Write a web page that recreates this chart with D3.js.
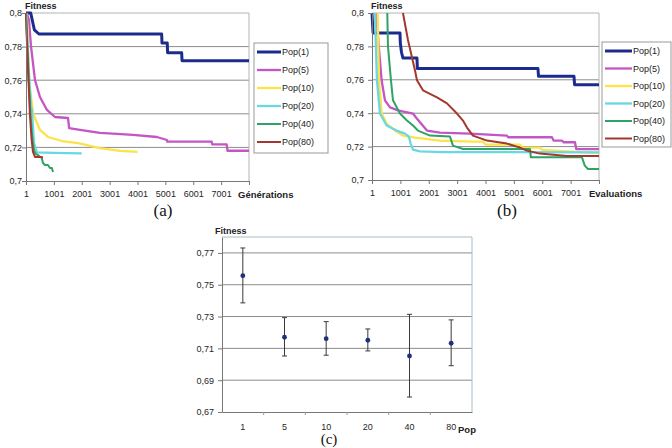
<!DOCTYPE html>
<html>
<head>
<meta charset="utf-8">
<script src="https://cdn.jsdelivr.net/npm/d3@7"></script>
<style>
	body { margin: 0; background: #fff; }
	svg { display: block; font-family: "Liberation Sans", Arial, sans-serif; }
</style>
</head>
<body>
<svg id="chart" width="672" height="448"></svg>
<script>
const popNames = ["Pop(1)", "Pop(5)", "Pop(10)", "Pop(20)", "Pop(40)", "Pop(80)"];
const popColors = ["#1c2c8c", "#c455c4", "#fbe348", "#6ad8e2", "#2ea366", "#a3382e"];
const popWidths = [3, 2.3, 2.3, 2.3, 2, 2];

const fitnessTicks = [0.7, 0.72, 0.74, 0.76, 0.78, 0.8];
const stepTicks = [1, 1001, 2001, 3001, 4001, 5001, 6001, 7001, 8001];
const stepLabels = ["1", "1001", "2001", "3001", "4001", "5001", "6001", "7001", ""];

// (a) fitness vs generations
const genPop1 = [[1, 0.8], [170, 0.8], [300, 0.79], [466, 0.7875], [4868, 0.7875], [4880, 0.7821], [5069, 0.7821], [5080, 0.7764], [5585, 0.7764], [5600, 0.7716], [8001, 0.7716]];
const genPop5 = [[30, 0.8], [108, 0.7958], [179, 0.7804], [323, 0.7601], [502, 0.75], [753, 0.7423], [1040, 0.7381], [1507, 0.7375], [1550, 0.7315], [1937, 0.7304], [2654, 0.7286], [3264, 0.728], [3838, 0.7274], [4699, 0.7262], [5058, 0.7244], [5070, 0.7234], [6661, 0.7234], [6680, 0.7218], [7199, 0.7218], [7230, 0.718], [8001, 0.718]];
const genPop10 = [[1, 0.8], [40, 0.795], [72, 0.7804], [108, 0.7601], [251, 0.7405], [395, 0.7345], [502, 0.7304], [789, 0.7262], [1291, 0.7238], [1865, 0.7226], [2188, 0.7214], [2654, 0.7196], [3372, 0.7179], [4001, 0.7173]];
const genPop20 = [[1, 0.8], [60, 0.78], [120, 0.76], [180, 0.745], [215, 0.7423], [287, 0.7226], [395, 0.717], [1000, 0.7167], [2001, 0.7165]];
const genPop40 = [[1, 0.8], [50, 0.78], [100, 0.76], [160, 0.74], [230, 0.725], [290, 0.718], [360, 0.716], [430, 0.7155], [502, 0.7143], [560, 0.7143], [610, 0.7107], [682, 0.7095], [789, 0.7095], [861, 0.7077], [930, 0.7077], [969, 0.7054]];
const genPop80 = [[1, 0.8], [40, 0.78], [90, 0.76], [140, 0.74], [200, 0.725], [251, 0.7173], [323, 0.7143], [500, 0.7143], [610, 0.714]];

// (b) fitness vs evaluations
const evalPop1 = [[1, 0.8], [40, 0.788], [987, 0.788], [1000, 0.782], [1040, 0.7765], [1092, 0.773], [1586, 0.773], [1600, 0.7667], [5850, 0.7667], [5870, 0.7621], [7119, 0.7621], [7140, 0.7571], [8001, 0.7571]];
const evalPop5 = [[141, 0.8], [340, 0.7597], [458, 0.7477], [634, 0.7435], [916, 0.7417], [1445, 0.7398], [1551, 0.7374], [1938, 0.7296], [2396, 0.7284], [3453, 0.7278], [4757, 0.7266], [4800, 0.7256], [6343, 0.7256], [6400, 0.7236], [6696, 0.7236], [6750, 0.7226], [7154, 0.7226], [7200, 0.7185], [8001, 0.7185]];
const evalPop10 = [[200, 0.8], [247, 0.7597], [342, 0.7398], [517, 0.7338], [810, 0.7296], [1092, 0.7266], [1515, 0.7254], [2396, 0.7236], [3559, 0.723], [3911, 0.723], [4000, 0.7212], [5216, 0.7212], [5300, 0.7194], [5920, 0.7194], [6000, 0.718], [7000, 0.717], [8001, 0.7163]];
const evalPop20 = [[100, 0.8], [176, 0.7597], [282, 0.7398], [517, 0.7326], [869, 0.7296], [1163, 0.7278], [1300, 0.726], [1363, 0.7218], [1445, 0.7182], [1690, 0.7172], [2500, 0.7167], [8001, 0.7166]];
const evalPop40 = [[540, 0.8], [564, 0.78], [670, 0.7597], [740, 0.7477], [987, 0.7398], [1233, 0.7356], [1445, 0.7326], [1621, 0.7296], [2044, 0.7266], [2749, 0.726], [2855, 0.7206], [3207, 0.7186], [5568, 0.7186], [5600, 0.7136], [7400, 0.7136], [7500, 0.7086], [7612, 0.7066], [8001, 0.7066]];
const evalPop80 = [[1092, 0.8], [1269, 0.7838], [1515, 0.7657], [1586, 0.7597], [1797, 0.7537], [2291, 0.7495], [2643, 0.7459], [2995, 0.7398], [3207, 0.7356], [3348, 0.7314], [3559, 0.7266], [4053, 0.7236], [4757, 0.7218], [5216, 0.7194], [5462, 0.7176], [5920, 0.7158], [6872, 0.7143], [8001, 0.7143]];

// (c) mean fitness and spread per population size
const popSizes = ["1", "5", "10", "20", "40", "80"];
const fitMean = [0.7557, 0.717, 0.7161, 0.7151, 0.7052, 0.7132];
const fitHigh = [0.7731, 0.7293, 0.7268, 0.7222, 0.7314, 0.7279];
const fitLow = [0.7386, 0.7052, 0.7057, 0.7084, 0.6794, 0.6991];
const boxTicks = [0.67, 0.69, 0.71, 0.73, 0.75, 0.77];

const comma = v => String(v).replace(".", ",");
const svg = d3.select("#chart");

function styleAxis(g) {
	g.attr("font-size", 9).attr("font-family", "Liberation Sans, Arial, sans-serif");
	g.selectAll("text").attr("fill", "#262626");
	g.selectAll("line").attr("stroke", "#777");
	g.select(".domain").attr("stroke", "#777");
}

function drawRuns(p) {
	let x = d3.scaleLinear().domain([1, 8001]).range([p.left, p.right]);
	let y = d3.scaleLinear().domain([0.7, 0.8]).range([p.bottom, p.top]);
	let g = svg.append("g");

	g.selectAll("line.grid")
		.data(fitnessTicks.slice(1, -1))
		.enter().append("line")
		.attr("x1", p.left).attr("x2", p.right)
		.attr("y1", y).attr("y2", y)
		.attr("stroke", "#8c8c8c");

	g.append("path")
		.attr("d", "M" + p.left + "," + y(0.8) + "H" + p.right + "V" + y(0.7))
		.attr("fill", "none")
		.attr("stroke", "#b4b4b4");

	let line = d3.line().x(d => x(d[0])).y(d => y(d[1]));
	g.selectAll("path.run")
		.data(p.series)
		.enter().append("path")
		.attr("class", "run")
		.attr("d", line)
		.attr("fill", "none")
		.attr("stroke", (d, i) => popColors[i])
		.attr("stroke-width", (d, i) => popWidths[i])
		.attr("stroke-linejoin", "round");

	g.append("g")
		.attr("transform", "translate(" + p.left + ",0)")
		.call(d3.axisLeft(y).tickValues(fitnessTicks).tickFormat(comma).tickSize(4).tickSizeOuter(0).tickPadding(p.labelPad))
		.call(styleAxis);

	g.append("g")
		.attr("transform", "translate(0," + p.bottom + ")")
		.call(d3.axisBottom(x).tickValues(stepTicks).tickFormat((d, i) => stepLabels[i]).tickSize(4).tickSizeOuter(0).tickPadding(6))
		.call(styleAxis);

	g.append("text")
		.attr("x", p.left - 1).attr("y", p.top - 4)
		.attr("font-size", 9).attr("font-weight", "bold").attr("fill", "#222")
		.text("Fitness");

	g.append("text")
		.attr("x", p.xTitleX).attr("y", p.bottom + 17)
		.attr("font-size", 9.5).attr("font-weight", "bold").attr("fill", "#222")
		.text(p.xTitle);

	let lg = g.append("g");
	lg.append("rect")
		.attr("x", p.legend.x).attr("y", p.legend.y)
		.attr("width", p.legend.w).attr("height", p.legend.h)
		.attr("fill", "#fff").attr("stroke", "#999");
	let item = lg.selectAll("g.item")
		.data(popNames)
		.enter().append("g")
		.attr("transform", (d, i) => "translate(" + (p.legend.x + 3) + "," + (p.legend.y + 9 + i * p.legend.step) + ")");
	item.append("line")
		.attr("x1", 0).attr("x2", p.legend.lineW)
		.attr("stroke", (d, i) => popColors[i])
		.attr("stroke-width", (d, i) => popWidths[i]);
	item.append("text")
		.attr("x", p.legend.lineW + 1).attr("dy", "0.35em")
		.attr("font-size", 9).attr("fill", "#222")
		.text(d => d);

	svg.append("text")
		.attr("x", p.captionX).attr("y", 216)
		.attr("text-anchor", "middle")
		.attr("font-family", "Liberation Serif, Times New Roman, serif")
		.attr("font-size", 17).attr("fill", "#111")
		.text(p.caption);
}

drawRuns({
	left: 26, right: 249, top: 13, bottom: 181, labelPad: 0,
	series: [genPop1, genPop5, genPop10, genPop20, genPop40, genPop80],
	xTitle: "Générations", xTitleX: 238,
	legend: {x: 254, y: 43, w: 74, h: 110, step: 18, lineW: 24},
	caption: "(a)", captionX: 163
});

drawRuns({
	left: 372, right: 599, top: 13, bottom: 180, labelPad: 4,
	series: [evalPop1, evalPop5, evalPop10, evalPop20, evalPop40, evalPop80],
	xTitle: "Evaluations", xTitleX: 589,
	legend: {x: 602, y: 42, w: 69, h: 105, step: 17.5, lineW: 27},
	caption: "(b)", captionX: 507
});

// (c) error bar chart
(function () {
	let left = 222, right = 472, top = 237, bottom = 412;
	let x = d3.scaleBand().domain(popSizes).range([left, right]);
	let y = d3.scaleLinear().domain([0.67, 0.78]).range([bottom, top]);
	let g = svg.append("g");

	g.selectAll("line.grid")
		.data(boxTicks.slice(1))
		.enter().append("line")
		.attr("x1", left).attr("x2", right)
		.attr("y1", y).attr("y2", y)
		.attr("stroke", "#8c8c8c");

	g.append("path")
		.attr("d", "M" + left + "," + top + "H" + right + "V" + bottom)
		.attr("fill", "none")
		.attr("stroke", "#a9bcc6");

	g.append("g")
		.attr("transform", "translate(" + left + ",0)")
		.call(d3.axisLeft(y).tickValues(boxTicks).tickFormat(comma).tickSize(4).tickSizeOuter(0).tickPadding(4))
		.call(styleAxis);

	g.append("g")
		.attr("transform", "translate(0," + bottom + ")")
		.call(d3.axisBottom(x).tickSize(0).tickPadding(12))
		.call(styleAxis);

	g.selectAll("line.xtick")
		.data(popSizes.slice(1))
		.enter().append("line")
		.attr("x1", d => x(d)).attr("x2", d => x(d))
		.attr("y1", bottom).attr("y2", bottom + 3)
		.attr("stroke", "#999");

	let bars = g.selectAll("g.err")
		.data(popSizes)
		.enter().append("g")
		.attr("transform", d => "translate(" + (x(d) + x.bandwidth() / 2) + ",0)")
		.attr("stroke", "#3a3a3a");
	bars.append("line")
		.attr("y1", (d, i) => y(fitLow[i])).attr("y2", (d, i) => y(fitHigh[i]));
	bars.append("line")
		.attr("x1", -2.5).attr("x2", 2.5)
		.attr("y1", (d, i) => y(fitLow[i])).attr("y2", (d, i) => y(fitLow[i]));
	bars.append("line")
		.attr("x1", -2.5).attr("x2", 2.5)
		.attr("y1", (d, i) => y(fitHigh[i])).attr("y2", (d, i) => y(fitHigh[i]));
	bars.append("circle")
		.attr("cy", (d, i) => y(fitMean[i]))
		.attr("r", 2.4)
		.attr("stroke", "none")
		.attr("fill", "#1f2f80");

	g.append("text")
		.attr("x", 215).attr("y", 234)
		.attr("font-size", 9).attr("font-weight", "bold").attr("fill", "#222")
		.text("Fitness");

	g.append("text")
		.attr("x", 458).attr("y", 433)
		.attr("font-size", 9.5).attr("font-weight", "bold").attr("fill", "#222")
		.text("Pop");

	// the caption sits at the very bottom edge, kept just inside the frame
	svg.append("text")
		.attr("x", 329).attr("y", 444)
		.attr("text-anchor", "middle")
		.attr("font-family", "Liberation Serif, Times New Roman, serif")
		.attr("font-size", 15).attr("fill", "#111")
		.text("(c)");
})();
</script>
</body>
</html>
